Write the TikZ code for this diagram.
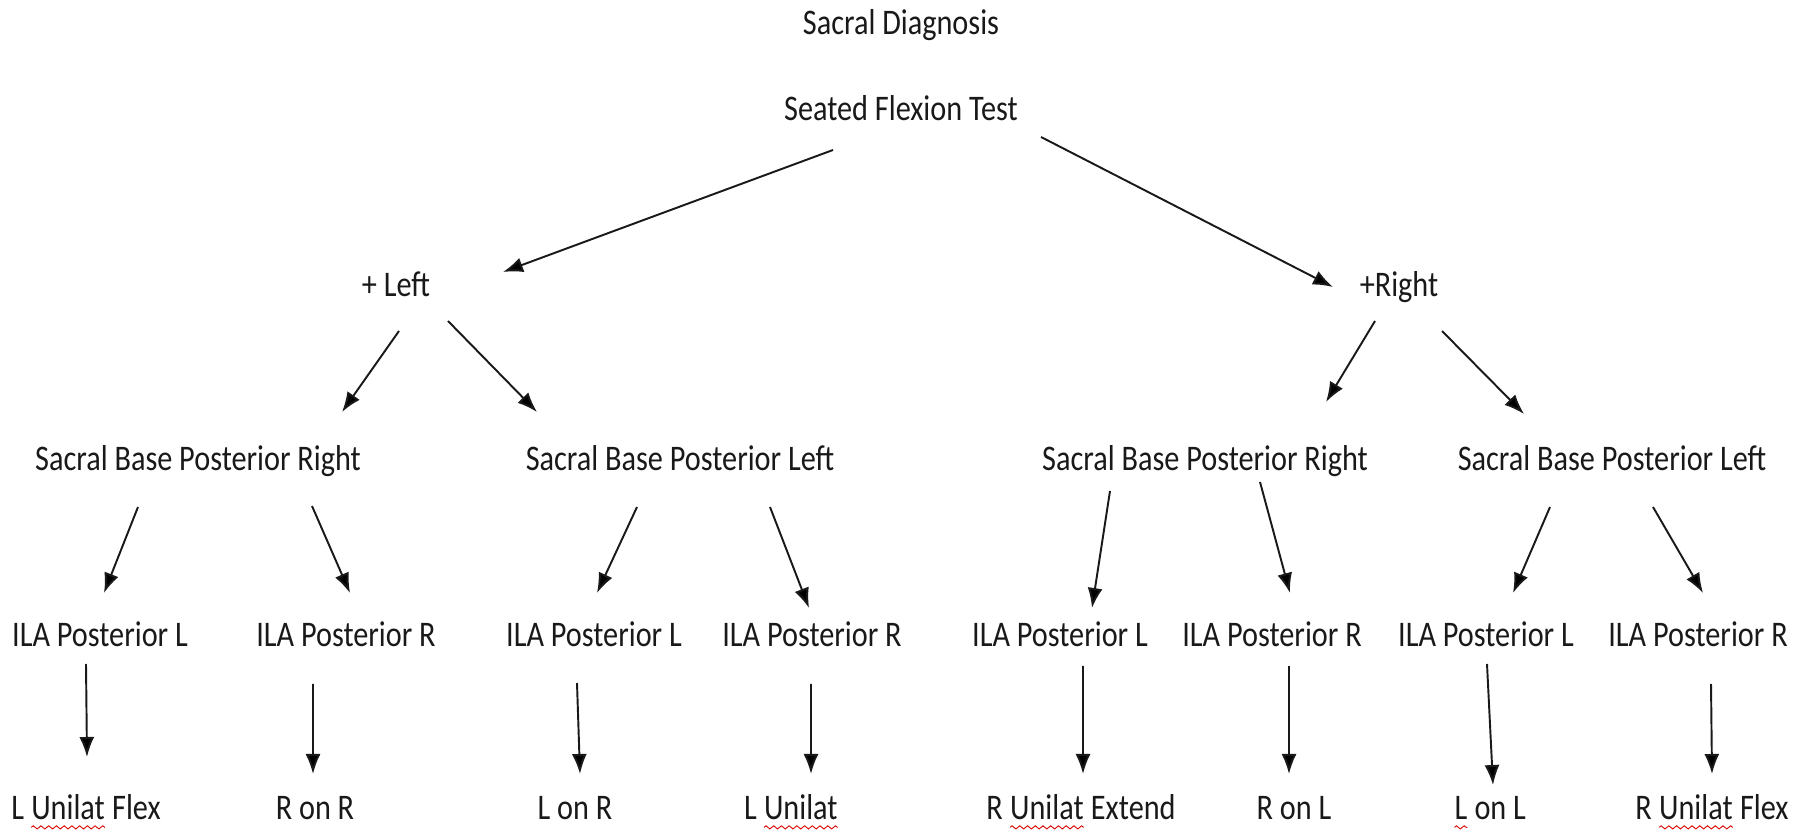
\documentclass[tikz,border=0pt]{standalone}
\usepackage{fontspec}
\setmainfont{Carlito}[FakeStretch=0.84]
\usetikzlibrary{arrows.meta,decorations.pathmorphing}
\colorlet{ink}{black!90}
\colorlet{spellred}{red!85!black}
\tikzset{
  arrow/.style={-{Latex[length=4mm,width=3mm]}, draw=ink, line width=1.1pt},
  txt/.style={anchor=base, inner sep=0pt, text=ink, font=\fontsize{20.5}{24}\selectfont},
  spell/.style={draw=spellred, line width=0.5pt, decorate,
    decoration={zigzag, amplitude=0.9pt, segment length=4.4pt}}
}
\newcommand{\typo}[1]{\tikz[baseline=(typoword.base)]{%
  \node[inner sep=0pt, outer sep=0pt, anchor=base] (typoword) {#1};
  \draw[spell] ([yshift=-4.2pt]typoword.base west) -- ([yshift=-4.2pt]typoword.base east);}}

\begin{document}
\begin{tikzpicture}[x=1cm,y=1cm]
  \useasboundingbox (0,0) rectangle (35.88,16.66);

  \node[txt] (title) at (18.02,15.96) {Sacral Diagnosis};
  \node[txt] (seated) at (18.02,14.24) {Seated Flexion Test};

  \node[txt] (posleft) at (7.92,10.72) {+ Left};
  \node[txt] (posright) at (27.98,10.72) {+Right};

  % sacral base
  \node[txt] (lbr) at (3.96,7.24) {Sacral Base Posterior Right};
  \node[txt] (lbl) at (13.60,7.24) {Sacral Base Posterior Left};
  \node[txt] (rbr) at (24.10,7.24) {Sacral Base Posterior Right};
  \node[txt] (rbl) at (32.24,7.24) {Sacral Base Posterior Left};

  % ILA
  \node[txt] (lbrIlaL) at (2.00,3.72) {ILA Posterior L};
  \node[txt] (lbrIlaR) at (6.92,3.72) {ILA Posterior R};
  \node[txt] (lblIlaL) at (11.88,3.72) {ILA Posterior L};
  \node[txt] (lblIlaR) at (16.24,3.72) {ILA Posterior R};
  \node[txt] (rbrIlaL) at (21.20,3.72) {ILA Posterior L};
  \node[txt] (rbrIlaR) at (25.44,3.72) {ILA Posterior R};
  \node[txt] (rblIlaL) at (29.72,3.72) {ILA Posterior L};
  \node[txt] (rblIlaR) at (33.96,3.72) {ILA Posterior R};

  % diagnosis
  \node[txt] (lUniFlex) at (1.72,0.26) {L \typo{Unilat} Flex};
  \node[txt] (rOnR) at (6.30,0.26) {R on R};
  \node[txt] (lOnR) at (11.50,0.26) {L on R};
  \node[txt] (lUni) at (15.82,0.26) {L \typo{Unilat}};
  \node[txt] (rUniExt) at (21.62,0.26) {R \typo{Unilat} Extend};
  \node[txt] (rOnL) at (25.88,0.26) {R on L};
  \node[txt] (lOnL) at (29.80,0.26) {\typo{L} on L};
  \node[txt] (rUniFlex) at (34.24,0.26) {R \typo{Unilat} Flex};

  \draw[arrow] ([shift={(-1.36,-0.58)}]seated.base) -- ([shift={(2.14,0.50)}]posleft.base);
  \draw[arrow] ([shift={(2.80,-0.32)}]seated.base) -- ([shift={(-1.32,0.20)}]posright.base);

  \draw[arrow] ([shift={(0.06,-0.68)}]posleft.base) -- ([shift={(2.88,1.18)}]lbr.base);
  \draw[arrow] ([shift={(1.04,-0.48)}]posleft.base) -- ([shift={(-2.86,1.18)}]lbl.base);
  \draw[arrow] ([shift={(-0.48,-0.48)}]posright.base) -- ([shift={(2.42,1.38)}]rbr.base);
  \draw[arrow] ([shift={(0.86,-0.68)}]posright.base) -- ([shift={(-1.76,1.14)}]rbl.base);

  \draw[arrow] ([shift={(-1.20,-0.72)}]lbr.base) -- ([shift={(0.08,1.08)}]lbrIlaL.base);
  \draw[arrow] ([shift={(2.28,-0.70)}]lbr.base) -- ([shift={(0.08,1.08)}]lbrIlaR.base);
  \draw[arrow] ([shift={(-0.86,-0.72)}]lbl.base) -- ([shift={(0.06,1.08)}]lblIlaL.base);
  \draw[arrow] ([shift={(1.80,-0.72)}]lbl.base) -- ([shift={(-0.06,0.78)}]lblIlaR.base);
  \draw[arrow] ([shift={(-1.90,-0.40)}]rbr.base) -- ([shift={(0.64,0.78)}]rbrIlaL.base);
  \draw[arrow] ([shift={(1.10,-0.22)}]rbr.base) -- ([shift={(0.36,1.08)}]rbrIlaR.base);
  \draw[arrow] ([shift={(-1.24,-0.72)}]rbl.base) -- ([shift={(0.54,1.08)}]rblIlaL.base);
  \draw[arrow] ([shift={(0.82,-0.72)}]rbl.base) -- ([shift={(0.10,1.08)}]rblIlaR.base);

  \draw[arrow] ([shift={(-0.28,-0.34)}]lbrIlaL.base) -- ([shift={(0.02,1.26)}]lUniFlex.base);
  \draw[arrow] ([shift={(-0.66,-0.74)}]lbrIlaR.base) -- ([shift={(-0.04,0.92)}]rOnR.base);
  \draw[arrow] ([shift={(-0.34,-0.72)}]lblIlaL.base) -- ([shift={(0.10,0.92)}]lOnR.base);
  \draw[arrow] ([shift={(-0.02,-0.74)}]lblIlaR.base) -- ([shift={(0.40,0.92)}]lUni.base);
  \draw[arrow] ([shift={(0.46,-0.38)}]rbrIlaL.base) -- ([shift={(0.04,0.92)}]rUniExt.base);
  \draw[arrow] ([shift={(0.34,-0.38)}]rbrIlaR.base) -- ([shift={(-0.10,0.92)}]rOnL.base);
  \draw[arrow] ([shift={(0.02,-0.34)}]rblIlaL.base) -- ([shift={(0.06,0.70)}]lOnL.base);
  \draw[arrow] ([shift={(0.26,-0.74)}]rblIlaR.base) -- ([shift={(0.00,0.92)}]rUniFlex.base);
\end{tikzpicture}
\end{document}
